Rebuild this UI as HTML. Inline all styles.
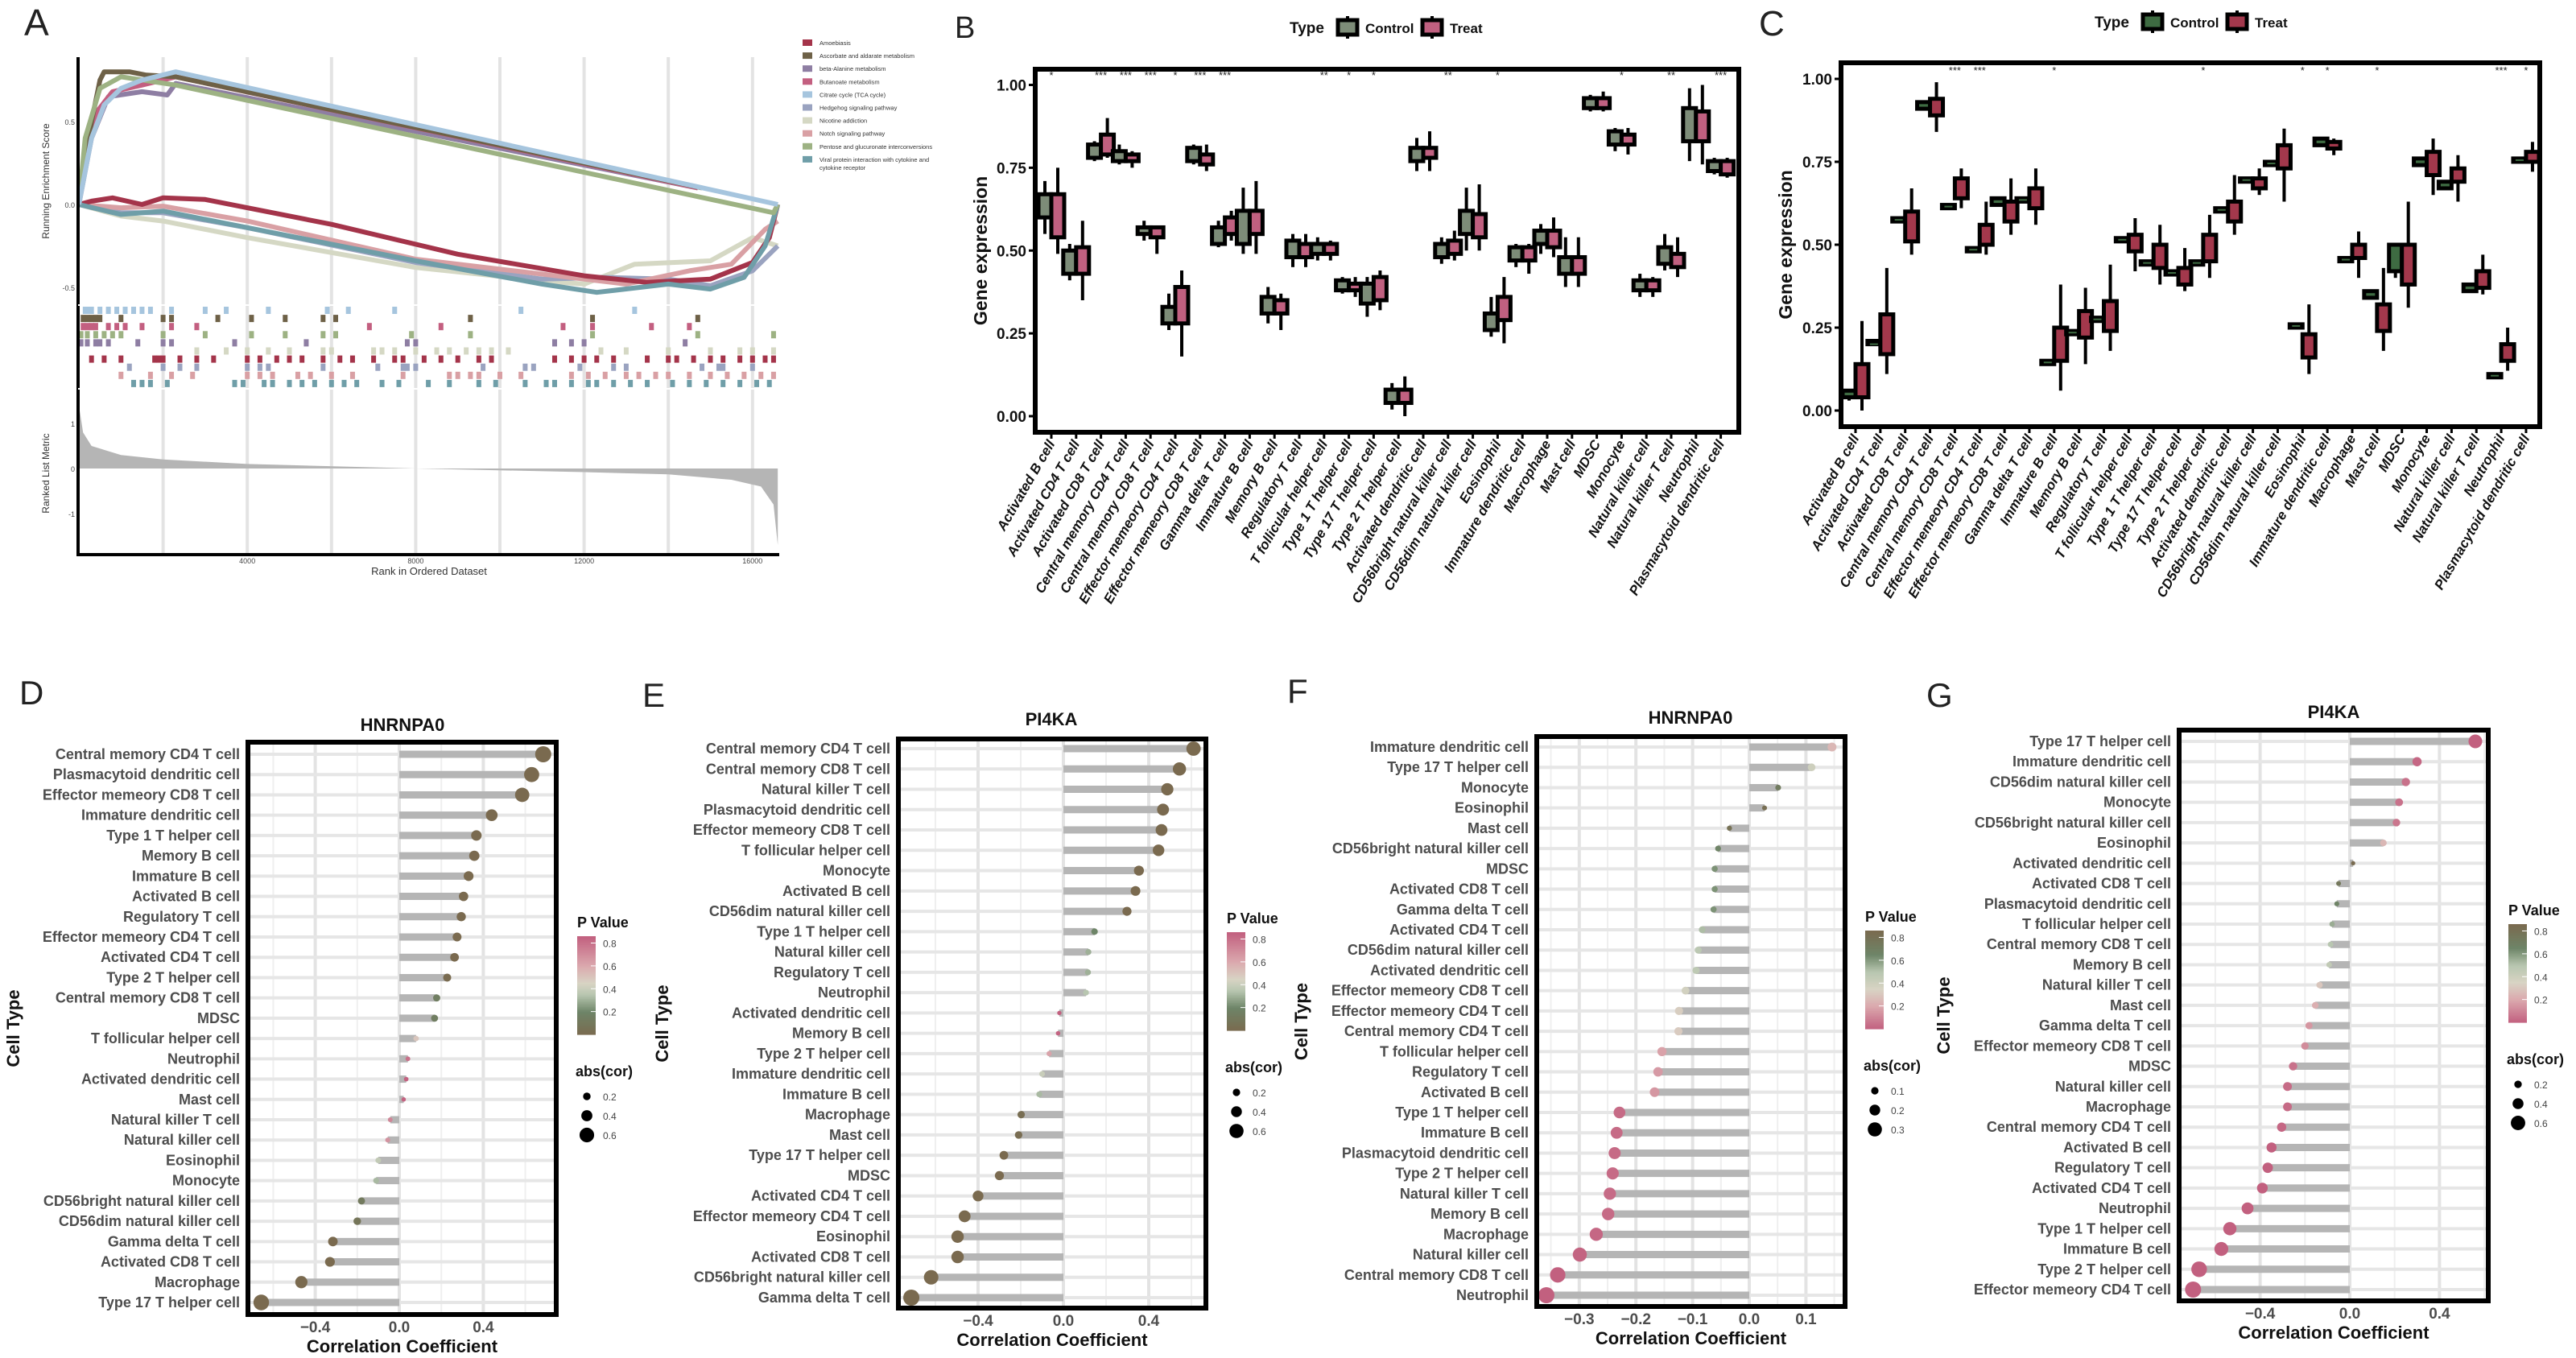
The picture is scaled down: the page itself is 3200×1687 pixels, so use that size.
<!DOCTYPE html>
<html><head><meta charset="utf-8">
<style>
html,body{margin:0;padding:0;background:#fff;}
svg{display:block;font-family:"Liberation Sans",sans-serif;}
</style></head>
<body>
<svg id="fig" xmlns="http://www.w3.org/2000/svg" width="3200" height="1687" viewBox="0 0 3200 1687">
<rect x="0" y="0" width="3200" height="1687" fill="#fff"/>
</svg>
<script>
// ---------- Panel A data ----------
const gseaNames=["Amoebiasis","Ascorbate and aldarate metabolism","beta-Alanine metabolism","Butanoate metabolism","Citrate cycle (TCA cycle)","Hedgehog signaling pathway","Nicotine addiction","Notch signaling pathway","Pentose and glucuronate interconversions","Viral protein interaction with cytokine and"];
const gseaColors=["#a4344a","#6e6147","#8e7ea3","#c35f80","#a6c5de","#9aa3c0","#d5d8c4","#d9a0a4","#9db283","#6f9ea8"];
const esAmoebiasis=[[0,0],[300,0.02],[800,0.04],[1500,0.0],[2000,0.04],[3000,0.03],[6000,-0.12],[9000,-0.3],[12000,-0.43],[13500,-0.47],[15000,-0.45],[16000,-0.35],[16400,-0.2],[16600,0]];
const esAscorbate=[[0,0],[300,0.5],[500,0.75],[600,0.8],[1200,0.8],[1600,0.78],[2300,0.77],[14800,0.1]];
const esBetaAlanine=[[0,0],[300,0.4],[700,0.65],[1500,0.68],[2100,0.66],[2300,0.73],[14700,0.1]];
const esButanoate=[[0,0],[200,0.3],[400,0.55],[800,0.68],[1500,0.72],[2300,0.77],[14700,0.1]];
const esCitrate=[[0,0],[300,0.4],[600,0.6],[1000,0.7],[1500,0.75],[2300,0.8],[16600,0.0]];
const esHedgehog=[[0,0],[1000,-0.05],[2000,-0.05],[4000,-0.14],[8000,-0.35],[11000,-0.45],[12500,-0.44],[14000,-0.45],[15000,-0.49],[16000,-0.4],[16600,-0.25]];
const esNicotine=[[0,0],[1000,-0.07],[2000,-0.1],[4000,-0.2],[8000,-0.38],[11000,-0.46],[12000,-0.48],[13200,-0.36],[15000,-0.34],[16000,-0.2],[16600,-0.25]];
const esNotch=[[0,0],[1000,-0.02],[2000,-0.01],[4000,-0.1],[8000,-0.33],[11000,-0.42],[13000,-0.48],[14500,-0.4],[15500,-0.36],[16300,-0.15],[16600,-0.1]];
const esPentose=[[0,0],[150,0.4],[500,0.7],[1000,0.77],[2300,0.72],[16500,-0.05],[16600,0]];
const esViral=[[0,0],[1000,-0.06],[2000,-0.04],[4000,-0.14],[8000,-0.34],[11000,-0.48],[12300,-0.53],[14000,-0.48],[15000,-0.51],[15800,-0.44],[16300,-0.25],[16600,0]];
const hitsCitrate=[150,200,300,500,700,900,1100,1300,1500,1700,2200,3000,3500,4500,5900,6400,7500,10500,13200];
const hitsAscorbate=[100,200,300,400,500,1000,2000,2200,3300,4100,4900,5800,6100,9300,12200,14700];
const hitsButanoate=[100,200,300,400,700,900,1100,1500,2200,2800,6900,8600,11500,12200,13600,14500];
const hitsPentose=[50,200,400,600,800,1000,2000,3000,4100,4900,5800,6100,7900,9300,12200,14700,16500];
const hitsBetaAlanine=[50,200,400,500,700,1400,2000,2200,3700,5400,7800,8000,11300,11700,12000,14400];
const hitsNicotine=[2800,3500,4000,4500,5000,5800,6000,7000,7200,7500,8000,8500,8800,9200,9500,9800,10200,12400,13000,14000,15000,15700,16000,16500];
const hitsAmoebiasis=[300,600,1000,1800,1900,2000,2400,2800,3200,4000,4300,4700,5000,5300,5800,6200,6500,7000,7500,7700,8200,8600,9000,9500,9800,11300,11700,12000,12300,12700,13500,14000,14200,14600,15000,15300,15700,16000,16300,16500];
const hitsHedgehog=[1200,2000,2400,2800,4000,4300,4500,5800,7100,7700,7800,8000,9600,10600,10800,11900,12700,13000,14800,15200,15300,16000];
const hitsNotch=[1000,1700,2200,2700,4000,4300,4600,5200,5500,6000,6500,7700,8800,9000,9300,9500,10000,10500,11700,12100,12500,13000,13300,13700,14000,14500,15000,15400,15800,16200,16500];
const hitsViral=[1300,1500,1700,2100,3700,3900,4400,4600,5000,5300,5600,6000,6300,6600,7200,7600,8300,8800,9500,9900,10600,11100,11300,11700,12100,12300,12700,13100,13500,14100,14500,14900,15300,15700,16100,16400];
const rankedMetric=[[0,1.4],[100,0.8],[300,0.5],[1000,0.3],[2000,0.2],[4000,0.1],[8000,0.0],[12000,-0.08],[14000,-0.13],[15500,-0.25],[16200,-0.4],[16500,-0.8],[16600,-1.7]];
const rankTicks=[4000,8000,12000,16000];

// ---------- Panel B/C data ----------
const cellCats=["Activated B cell","Activated CD4 T cell","Activated CD8 T cell","Central memory CD4 T cell","Central memory CD8 T cell","Effector memeory CD4 T cell","Effector memeory CD8 T cell","Gamma delta T cell","Immature  B cell","Memory B cell","Regulatory T cell","T follicular helper cell","Type 1 T helper cell","Type 17 T helper cell","Type 2 T helper cell","Activated dendritic cell","CD56bright natural killer cell","CD56dim natural killer cell","Eosinophil","Immature dendritic cell","Macrophage","Mast cell","MDSC","Monocyte","Natural killer cell","Natural killer T cell","Neutrophil","Plasmacytoid dendritic cell"];
const boxTicks=[0,0.25,0.5,0.75,1.0];
const boxTickLabels=["0.00","0.25","0.50","0.75","1.00"];
const bControl=[[0.55,0.60,0.62,0.67,0.71],[0.41,0.43,0.46,0.50,0.52],[0.77,0.78,0.79,0.82,0.83],[0.76,0.77,0.79,0.80,0.82],[0.53,0.55,0.56,0.57,0.59],[0.26,0.28,0.30,0.33,0.37],[0.76,0.77,0.79,0.81,0.82],[0.51,0.52,0.54,0.57,0.59],[0.49,0.52,0.57,0.62,0.69],[0.28,0.31,0.33,0.36,0.39],[0.45,0.48,0.50,0.53,0.55],[0.47,0.49,0.51,0.52,0.54],[0.37,0.38,0.39,0.41,0.42],[0.30,0.34,0.37,0.40,0.42],[0.02,0.04,0.05,0.08,0.10],[0.74,0.77,0.80,0.81,0.84],[0.46,0.48,0.50,0.52,0.54],[0.50,0.55,0.58,0.62,0.69],[0.24,0.26,0.29,0.31,0.36],[0.45,0.47,0.49,0.51,0.52],[0.49,0.52,0.54,0.56,0.58],[0.39,0.43,0.46,0.48,0.54],[0.92,0.93,0.95,0.96,0.97],[0.80,0.82,0.84,0.86,0.87],[0.36,0.38,0.40,0.41,0.43],[0.44,0.46,0.48,0.51,0.55],[0.77,0.83,0.89,0.93,0.99],[0.73,0.74,0.76,0.77,0.78]];
const bTreat=[[0.49,0.54,0.60,0.67,0.75],[0.35,0.43,0.47,0.51,0.59],[0.78,0.79,0.82,0.85,0.90],[0.75,0.77,0.78,0.79,0.80],[0.49,0.54,0.55,0.57,0.57],[0.18,0.28,0.33,0.39,0.44],[0.74,0.76,0.77,0.79,0.82],[0.53,0.55,0.58,0.60,0.62],[0.49,0.55,0.58,0.62,0.71],[0.26,0.31,0.34,0.35,0.37],[0.45,0.48,0.50,0.52,0.55],[0.47,0.49,0.50,0.52,0.53],[0.36,0.38,0.39,0.40,0.42],[0.32,0.35,0.38,0.42,0.44],[0.00,0.04,0.05,0.08,0.12],[0.74,0.78,0.80,0.81,0.86],[0.47,0.49,0.50,0.53,0.56],[0.50,0.54,0.57,0.61,0.70],[0.22,0.29,0.32,0.36,0.42],[0.43,0.47,0.49,0.51,0.52],[0.48,0.51,0.54,0.56,0.60],[0.39,0.43,0.46,0.48,0.54],[0.92,0.93,0.95,0.96,0.98],[0.79,0.82,0.84,0.85,0.87],[0.36,0.38,0.40,0.41,0.42],[0.42,0.45,0.46,0.49,0.54],[0.76,0.83,0.87,0.92,1.00],[0.72,0.73,0.75,0.77,0.78]];
const bSig=["*","","***","***","***","*","***","***","","","","**","*","*","","","**","","*","","","","","*","","**","","***"];
const cControl=[[0.03,0.04,0.05,0.06,0.06],[0.20,0.20,0.20,0.21,0.21],[0.57,0.57,0.575,0.58,0.58],[0.91,0.91,0.92,0.93,0.93],[0.61,0.61,0.615,0.62,0.62],[0.48,0.48,0.485,0.49,0.49],[0.62,0.62,0.63,0.64,0.64],[0.63,0.63,0.635,0.64,0.64],[0.14,0.14,0.145,0.15,0.15],[0.23,0.23,0.235,0.24,0.24],[0.27,0.27,0.275,0.28,0.28],[0.51,0.51,0.515,0.52,0.52],[0.44,0.44,0.445,0.45,0.45],[0.41,0.41,0.415,0.42,0.42],[0.44,0.44,0.445,0.45,0.45],[0.60,0.60,0.605,0.61,0.61],[0.69,0.69,0.695,0.70,0.70],[0.74,0.74,0.745,0.75,0.75],[0.25,0.25,0.255,0.26,0.26],[0.80,0.80,0.81,0.82,0.82],[0.45,0.45,0.455,0.46,0.46],[0.34,0.34,0.35,0.36,0.36],[0.40,0.42,0.46,0.50,0.50],[0.74,0.74,0.75,0.76,0.76],[0.67,0.67,0.68,0.69,0.69],[0.36,0.36,0.37,0.38,0.38],[0.10,0.10,0.105,0.11,0.11],[0.75,0.75,0.755,0.76,0.76]];
const cTreat=[[0.00,0.04,0.08,0.14,0.27],[0.11,0.17,0.22,0.29,0.43],[0.47,0.51,0.53,0.60,0.67],[0.84,0.89,0.91,0.94,0.99],[0.61,0.64,0.67,0.70,0.73],[0.47,0.50,0.53,0.56,0.63],[0.53,0.57,0.60,0.63,0.70],[0.56,0.61,0.64,0.67,0.73],[0.06,0.15,0.20,0.25,0.38],[0.14,0.22,0.26,0.30,0.37],[0.18,0.24,0.27,0.33,0.44],[0.42,0.48,0.51,0.53,0.58],[0.38,0.43,0.46,0.50,0.56],[0.36,0.38,0.40,0.43,0.49],[0.40,0.45,0.48,0.53,0.59],[0.53,0.57,0.60,0.63,0.71],[0.65,0.67,0.69,0.70,0.73],[0.63,0.73,0.76,0.80,0.85],[0.11,0.16,0.20,0.23,0.32],[0.77,0.79,0.80,0.81,0.82],[0.40,0.46,0.48,0.50,0.54],[0.18,0.24,0.28,0.32,0.43],[0.31,0.38,0.44,0.50,0.63],[0.65,0.71,0.75,0.78,0.82],[0.63,0.69,0.71,0.73,0.77],[0.35,0.37,0.39,0.42,0.47],[0.12,0.15,0.17,0.20,0.25],[0.72,0.75,0.77,0.78,0.81]];
const cSig=["","","","","***","***","","","*","","","","","","*","","","","*","*","","*","","","","","***","*"];

// ---------- Panels D-G data ----------
const dNames=["Central memory CD4 T cell","Plasmacytoid dendritic cell","Effector memeory CD8 T cell","Immature dendritic cell","Type 1 T helper cell","Memory B cell","Immature  B cell","Activated B cell","Regulatory T cell","Effector memeory CD4 T cell","Activated CD4 T cell","Type 2 T helper cell","Central memory CD8 T cell","MDSC","T follicular helper cell","Neutrophil","Activated dendritic cell","Mast cell","Natural killer T cell","Natural killer cell","Eosinophil","Monocyte","CD56bright natural killer cell","CD56dim natural killer cell","Gamma delta T cell","Activated CD8 T cell","Macrophage","Type 17 T helper cell"];
const dCor=[0.685,0.63,0.585,0.44,0.367,0.357,0.33,0.306,0.295,0.275,0.263,0.228,0.178,0.168,0.08,0.041,0.033,0.021,-0.043,-0.055,-0.10,-0.11,-0.18,-0.20,-0.316,-0.33,-0.466,-0.657];
const dP=[0,0,0,0,0,0,0,0,0,0,0,0.01,0.15,0.15,0.5,0.8,0.85,0.85,0.72,0.68,0.38,0.32,0.12,0.08,0,0,0,0];
const eNames=["Central memory CD4 T cell","Central memory CD8 T cell","Natural killer T cell","Plasmacytoid dendritic cell","Effector memeory CD8 T cell","T follicular helper cell","Monocyte","Activated B cell","CD56dim natural killer cell","Type 1 T helper cell","Natural killer cell","Regulatory T cell","Neutrophil","Activated dendritic cell","Memory B cell","Type 2 T helper cell","Immature dendritic cell","Immature  B cell","Macrophage","Mast cell","Type 17 T helper cell","MDSC","Activated CD4 T cell","Effector memeory CD4 T cell","Eosinophil","Activated CD8 T cell","CD56bright natural killer cell","Gamma delta T cell"];
const eCor=[0.61,0.544,0.487,0.467,0.46,0.446,0.354,0.338,0.298,0.146,0.117,0.115,0.106,-0.019,-0.025,-0.067,-0.10,-0.113,-0.198,-0.21,-0.279,-0.30,-0.40,-0.463,-0.496,-0.496,-0.62,-0.713];
const eP=[0,0,0,0,0,0,0,0,0,0.2,0.3,0.3,0.35,0.88,0.85,0.62,0.4,0.32,0.03,0.02,0,0,0,0,0,0,0,0];
const fNames=["Immature dendritic cell","Type 17 T helper cell","Monocyte","Eosinophil","Mast cell","CD56bright natural killer cell","MDSC","Activated CD8 T cell","Gamma delta T cell","Activated CD4 T cell","CD56dim natural killer cell","Activated dendritic cell","Effector memeory CD8 T cell","Effector memeory CD4 T cell","Central memory CD4 T cell","T follicular helper cell","Regulatory T cell","Activated B cell","Type 1 T helper cell","Immature  B cell","Plasmacytoid dendritic cell","Type 2 T helper cell","Natural killer T cell","Memory B cell","Macrophage","Natural killer cell","Central memory CD8 T cell","Neutrophil"];
const fCor=[0.146,0.110,0.051,0.027,-0.035,-0.055,-0.061,-0.061,-0.063,-0.083,-0.09,-0.094,-0.1125,-0.124,-0.125,-0.154,-0.161,-0.167,-0.229,-0.234,-0.2375,-0.241,-0.246,-0.249,-0.27,-0.299,-0.338,-0.358];
const fP=[0.25,0.4,0.72,0.82,0.8,0.66,0.62,0.62,0.62,0.52,0.48,0.47,0.38,0.33,0.32,0.18,0.16,0.15,0.03,0.03,0.03,0.03,0.03,0.03,0.02,0.01,0,0];
const gNames=["Type 17 T helper cell","Immature dendritic cell","CD56dim natural killer cell","Monocyte","CD56bright natural killer cell","Eosinophil","Activated dendritic cell","Activated CD8 T cell","Plasmacytoid dendritic cell","T follicular helper cell","Central memory CD8 T cell","Memory B cell","Natural killer T cell","Mast cell","Gamma delta T cell","Effector memeory CD8 T cell","MDSC","Natural killer cell","Macrophage","Central memory CD4 T cell","Activated B cell","Regulatory T cell","Activated CD4 T cell","Neutrophil","Type 1 T helper cell","Immature  B cell","Type 2 T helper cell","Effector memeory CD4 T cell"];
const gCor=[0.56,0.30,0.25,0.22,0.208,0.15,0.015,-0.05,-0.058,-0.079,-0.086,-0.092,-0.135,-0.154,-0.182,-0.20,-0.253,-0.278,-0.278,-0.304,-0.349,-0.366,-0.39,-0.456,-0.535,-0.573,-0.672,-0.699];
const gP=[0,0.02,0.05,0.05,0.06,0.25,0.85,0.75,0.66,0.56,0.5,0.46,0.3,0.22,0.15,0.12,0.05,0.03,0.03,0.02,0,0,0,0,0,0,0,0];

// ---------- helpers ----------
const NS='http://www.w3.org/2000/svg';
const svg=document.getElementById('fig');
function mk(tag,attrs,parent){const e=document.createElementNS(NS,tag);for(const k in attrs)e.setAttribute(k,attrs[k]);(parent||svg).appendChild(e);return e;}
function tx(str,attrs,parent){const e=mk('text',attrs,parent);e.textContent=str;return e;}
function hex2rgb(h){return [parseInt(h.slice(1,3),16),parseInt(h.slice(3,5),16),parseInt(h.slice(5,7),16)];}
function interp(stops,v){if(v<=stops[0][0])return stops[0][1];for(let i=1;i<stops.length;i++){if(v<=stops[i][0]){const t=(v-stops[i-1][0])/(stops[i][0]-stops[i-1][0]);const a=hex2rgb(stops[i-1][1]),b=hex2rgb(stops[i][1]);return 'rgb('+a.map((x,j)=>Math.round(x+(b[j]-x)*t)).join(',')+')';}}return stops[stops.length-1][1];}
const scaleNormal=[[0,'#7a6a4f'],[0.2,'#6e8568'],[0.35,'#b8c6b0'],[0.45,'#d8d4c4'],[0.6,'#dba9ae'],[0.86,'#c2607f']];
const scaleRev=[[0,'#c2607f'],[0.2,'#dba9ae'],[0.35,'#d8d4c4'],[0.5,'#b8c6b0'],[0.65,'#6e8568'],[0.86,'#7a6a4f']];
function panelLetter(ch,x,y,size){const t=tx(ch,{x:x,y:y,'font-size':size,fill:'#222'});

}

// ---------- Panel A ----------
(function(){
 const L=97,R=968,T=71,ESB=379,HB=483,B=689;
 const xr=r=>98+r*0.0523;
 const ye=v=>254-v*206;
 const ym=v=>582-v*56;
 const g=mk('g',{});
 
 
 for(let r=2000;r<=16000;r+=2000){const l=mk('line',{x1:xr(r),x2:xr(r),y1:T,y2:B,stroke:'#e3e3e3','stroke-width':4},g);
 
 }
 let d='M'+xr(0)+','+ym(0);rankedMetric.forEach(p=>{d+=' L'+xr(p[0]).toFixed(1)+','+ym(p[1]).toFixed(1);});d+=' L'+xr(16600)+','+ym(0)+'Z';
 const area=mk('path',{d:d,fill:'#b5b5b5'},g);
 
 
 const esSeries=[esAmoebiasis,esAscorbate,esBetaAlanine,esButanoate,esCitrate,esHedgehog,esNicotine,esNotch,esPentose,esViral];
 const order=[6,5,7,0,9,2,3,1,8,4];
 order.forEach(i=>{const pts=esSeries[i].map(p=>xr(p[0]).toFixed(1)+','+ye(p[1]).toFixed(1)).join(' ');
 const pl=mk('polyline',{points:pts,fill:'none',stroke:gseaColors[i],'stroke-width':6,'stroke-linejoin':'round'},g);
 
 });
 const hitRows=[[hitsCitrate,4],[hitsAscorbate,1],[hitsButanoate,3],[hitsPentose,8],[hitsBetaAlanine,2],[hitsNicotine,6],[hitsAmoebiasis,0],[hitsHedgehog,5],[hitsNotch,7],[hitsViral,9]];
 hitRows.forEach((row,k)=>{const y0=381+k*10.1;row[0].forEach(r=>{const h=mk('rect',{x:xr(r)-3,y:y0,width:6,height:9,fill:gseaColors[row[1]]},g);
 
 });});
 const ax=mk('path',{d:'M'+L+','+T+' L'+L+','+B+' L'+R+','+B,fill:'none',stroke:'#000','stroke-width':4},g);
 
 
 const sep=mk('path',{d:'M'+L+','+ESB+' L'+R+','+ESB+' M'+L+','+HB+' L'+R+','+HB,stroke:'#fff','stroke-width':2},g);
 
 
 [[0.5,'0.5'],[0,'0.0'],[-0.5,'-0.5']].forEach(t=>{const e=tx(t[1],{x:L-4,y:ye(t[0])+4,'font-size':9,'text-anchor':'end',fill:'#444'},g);
 
 });
 [[1,'1'],[0,'0'],[-1,'-1']].forEach(t=>{const e=tx(t[1],{x:L-4,y:ym(t[0])+4,'font-size':9,'text-anchor':'end',fill:'#444'},g);
 
 });
 rankTicks.forEach(r=>{const e=tx(String(r),{x:xr(r),y:700,'font-size':9,'text-anchor':'middle',fill:'#444'},g);
 
 });
 const xt=tx('Rank in Ordered Dataset',{x:533,y:714,'font-size':13,'text-anchor':'middle',fill:'#333'},g);
 
 
 const yt=tx('Running Enrichment Score',{x:0,y:0,'font-size':12,'text-anchor':'middle',fill:'#333',transform:'translate(61,225) rotate(-90)'},g);
 
 
 const yt2=tx('Ranked List Metric',{x:0,y:0,'font-size':12,'text-anchor':'middle',fill:'#333',transform:'translate(61,588) rotate(-90)'},g);
 
 
 gseaNames.forEach((n,i)=>{const y=53+i*16.1;const r=mk('rect',{x:997,y:y-4,width:12,height:8,fill:gseaColors[i]},g);
 
 
 const t=tx(n,{x:1018,y:y+3,'font-size':7.5,fill:'#333'},g);
 
 });
 const t2=tx('cytokine receptor',{x:1018,y:53+9*16.1+13,'font-size':7.5,fill:'#333'},g);
 
 
})();
panelLetter('A',30,44,46);

// ---------- Box panels ----------
function boxPanel(P,ctrl,treat,sig,cCol,tCol,pre){
 const g=mk('g',{});
 
 
 const y=v=>P.yZero-(P.yZero-P.yOne)*v;
 const x=i=>P.x0+i*P.step;
 boxTicks.forEach((v,k)=>{const t=mk('line',{x1:P.L-8,x2:P.L,y1:y(v),y2:y(v),stroke:'#000','stroke-width':3},g);
 
 
 const lb=tx(boxTickLabels[k],{x:P.L-11,y:y(v)+7,'font-size':19,'font-weight':'bold','text-anchor':'end',fill:'#111'},g);
 
 });
 function drawBox(cx,s,col,kind){
  const w=mk('line',{x1:cx,x2:cx,y1:y(s[0]),y2:y(s[4]),stroke:'#000','stroke-width':4},g);
  
  
  const h=Math.max(2,y(s[1])-y(s[3]));
  const b=mk('rect',{x:cx-8,y:y(s[3]),width:16,height:h,fill:col,stroke:'#000','stroke-width':5},g);
  
  
  const m=mk('line',{x1:cx-5,x2:cx+5,y1:y(s[2]),y2:y(s[2]),stroke:col,'stroke-width':2},g);
  
  
 }
 cellCats.forEach((c,i)=>{
  drawBox(x(i)-8,ctrl[i],cCol,'control');
  drawBox(x(i)+8,treat[i],tCol,'treat');
  const tk=mk('line',{x1:x(i),x2:x(i),y1:P.B,y2:P.B+8,stroke:'#000','stroke-width':3},g);
  
  
  const lb=tx(c,{x:0,y:0,'font-size':17,'font-weight':'bold','font-style':'italic','text-anchor':'end',fill:'#111',transform:'translate('+(x(i)+5)+','+(P.B+14)+') rotate(-60)'},g);
  
  
  if(sig[i]){const s=tx(sig[i],{x:x(i),y:P.starY,'font-size':13,'text-anchor':'middle',fill:'#222'},g);
  
  }
 });
 const fr=mk('rect',{x:P.L,y:P.T,width:P.R-P.L,height:P.B-P.T,fill:'none',stroke:'#000','stroke-width':6},g);
 
 
 const yt=tx('Gene expression',{x:0,y:0,'font-size':23,'font-weight':'bold','text-anchor':'middle',fill:'#111',transform:'translate('+P.ytX+','+((P.T+P.B)/2)+') rotate(-90)'},g);
 
 
 const lt=tx('Type',{x:P.legX,y:P.legY+7,'font-size':19,'font-weight':'bold',fill:'#111'},g);
 
 
 [[cCol,'Control',P.legX+60],[tCol,'Treat',P.legX+165]].forEach(e=>{
  const ln=mk('line',{x1:e[2]+12,x2:e[2]+12,y1:P.legY-14,y2:P.legY+14,stroke:'#000','stroke-width':4},g);
  
  
  const r=mk('rect',{x:e[2],y:P.legY-9,width:24,height:18,fill:e[0],stroke:'#000','stroke-width':5},g);
  
  
  const t=tx(e[1],{x:e[2]+34,y:P.legY+7,'font-size':17,'font-weight':'bold',fill:'#111'},g);
  
  });
}
boxPanel({L:1286,R:2160,T:86,B:537,x0:1306,step:30.8,yZero:517,yOne:105.5,ytX:1226,legX:1602,legY:34,starY:98},bControl,bTreat,bSig,'#7d8c78','#c06080','b');
boxPanel({L:2287,R:3155,T:78,B:530,x0:2305,step:30.85,yZero:510,yOne:98,ytX:2226,legX:2602,legY:27,starY:92},cControl,cTreat,cSig,'#3e6b42','#a3384c','c');
panelLetter('B',1186,47,38);
panelLetter('C',2185,44,44);

// ---------- Lollipop panels ----------
function lolli(P,names,cor,pv,stops,pre){
 const g=mk('g',{});
 
 
 const x=v=>P.x0+v*P.ppu;
 const n=names.length;
 const y=i=>P.r0+i*(P.r1-P.r0)/(n-1);
 const lo=(P.L-P.x0)/P.ppu, hi=(P.R-P.x0)/P.ppu;
 for(let k=Math.ceil(lo/P.minor);k*P.minor<=hi;k++){const v=k*P.minor;const major=Math.abs(Math.round(v/P.major)*P.major-v)<1e-6;
  const l=mk('line',{x1:x(v),x2:x(v),y1:P.T,y2:P.B,stroke:major?'#e3e3e3':'#efefef','stroke-width':major?4:2},g);
  
  }
 const maxA=Math.max(...cor.map(Math.abs));
 names.forEach((nm,i)=>{
  const hl=mk('line',{x1:P.L,x2:P.R,y1:y(i),y2:y(i),stroke:'#e6e6e6','stroke-width':4},g);
  
  
  const lb=tx(nm,{x:P.L-10,y:y(i)+6,'font-size':18,'font-weight':'bold','text-anchor':'end',fill:'#4d4d4d'},g);
  
  
 });
 names.forEach((nm,i)=>{
  const s=mk('line',{x1:x(0),x2:x(cor[i]),y1:y(i),y2:y(i),stroke:'#b5b5b5','stroke-width':9},g);
  
  
  const c=mk('circle',{cx:x(cor[i]),cy:y(i),r:2.5+7.5*Math.abs(cor[i])/maxA,fill:interp(stops,pv[i])},g);
  
  
 });
 const fr=mk('rect',{x:P.L,y:P.T,width:P.R-P.L,height:P.B-P.T,fill:'none',stroke:'#000','stroke-width':6},g);
 
 
 P.ticks.forEach((t,k)=>{const e=tx(P.tickLabels[k],{x:x(t),y:P.B+22,'font-size':19,'font-weight':'bold','text-anchor':'middle',fill:'#4d4d4d'},g);
  
  });
 const xt=tx('Correlation Coefficient',{x:(P.L+P.R)/2,y:P.B+47,'font-size':22,'font-weight':'bold','text-anchor':'middle',fill:'#111'},g);
 
 
 const yt=tx('Cell Type',{x:0,y:0,'font-size':22,'font-weight':'bold','text-anchor':'middle',fill:'#111',transform:'translate('+P.ytX+','+((P.T+P.B)/2)+') rotate(-90)'},g);
 
 
 const ti=tx(P.title,{x:P.titleX,y:P.titleY,'font-size':22,'font-weight':'bold','text-anchor':'middle',fill:'#111'},g);
 
 
 const pt=tx('P Value',{x:P.legX,y:P.legY,'font-size':18,'font-weight':'bold',fill:'#111'},g);
 
 
 const cb0=P.legY+11, cb1=P.legY+133;
 const py=p=>cb1-(cb1-cb0)*p/0.86;
 for(let k=0;k<60;k++){const p0=0.86*k/60;const r=mk('rect',{x:P.legX,y:py(p0+0.86/60),width:23,height:(cb1-cb0)/60+0.6,fill:interp(stops,p0+0.43/60)},g);
  
  }
 [0.2,0.4,0.6,0.8].forEach(p=>{const l=mk('line',{x1:P.legX+17,x2:P.legX+23,y1:py(p),y2:py(p),stroke:'#fff','stroke-width':1},g);
  
  
  const t=tx(p.toFixed(1),{x:P.legX+32,y:py(p)+5,'font-size':12,fill:'#444'},g);
  
  });
 const at=tx('abs(cor)',{x:P.legX-2,y:P.legY+185,'font-size':18,'font-weight':'bold',fill:'#111'},g);
 
 
 P.sizeVals.forEach((v,k)=>{const cy=P.legY+210+k*24;const c=mk('circle',{cx:P.legX+12,cy:cy,r:2.5+7.5*v/maxA,fill:'#000'},g);
  
  
  const t=tx(v.toFixed(1),{x:P.legX+32,y:cy+5,'font-size':12,fill:'#444'},g);
  
  });
}
lolli({L:308,R:691,T:922,B:1633,x0:496,ppu:261,r0:937,r1:1618,ticks:[-0.4,0,0.4],tickLabels:['\u22120.4','0.0','0.4'],major:0.4,minor:0.2,title:'HNRNPA0',titleX:500,titleY:908,ytX:24,legX:717,legY:1152,sizeVals:[0.2,0.4,0.6]},dNames,dCor,dP,scaleNormal,'d');
lolli({L:1116,R:1498,T:918,B:1625,x0:1321,ppu:265,r0:930,r1:1612,ticks:[-0.4,0,0.4],tickLabels:['\u22120.4','0.0','0.4'],major:0.4,minor:0.2,title:'PI4KA',titleX:1306,titleY:901,ytX:830,legX:1524,legY:1147,sizeVals:[0.2,0.4,0.6]},eNames,eCor,eP,scaleNormal,'e');
lolli({L:1909,R:2292,T:915,B:1623,x0:2173,ppu:704,r0:928,r1:1609,ticks:[-0.3,-0.2,-0.1,0,0.1],tickLabels:['\u22120.3','\u22120.2','\u22120.1','0.0','0.1'],major:0.1,minor:0.05,title:'HNRNPA0',titleX:2100,titleY:899,ytX:1624,legX:2317,legY:1145,sizeVals:[0.1,0.2,0.3]},fNames,fCor,fP,scaleRev,'f');
lolli({L:2707,R:3091,T:907,B:1616,x0:2919,ppu:278.5,r0:921,r1:1602,ticks:[-0.4,0,0.4],tickLabels:['\u22120.4','0.0','0.4'],major:0.4,minor:0.2,title:'PI4KA',titleX:2899,titleY:892,ytX:2422,legX:3116,legY:1137,sizeVals:[0.2,0.4,0.6]},gNames,gCor,gP,scaleRev,'g');
panelLetter('D',24,875,42);
panelLetter('E',798,878,42);
panelLetter('F',1599,873,42);
panelLetter('G',2393,878,42);
</script>
</body></html>
